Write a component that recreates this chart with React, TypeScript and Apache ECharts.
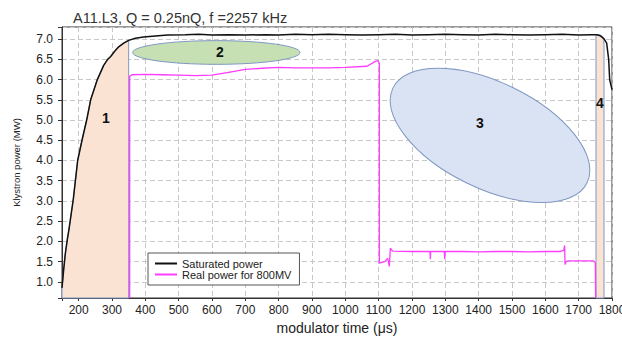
import React, { useEffect, useRef } from "react";
import * as echarts from "echarts";

const chartTitle = "A11.L3, Q = 0.25nQ, f =2257 kHz";
const xAxisName = "modulator time (\u03bcs)";
const yAxisName = "Klystron power (MW)";
const seriesNames = ["Saturated power", "Real power for 800MV"];

const xMin = 150;
const xMax = 1800;
const xStep = 100;
const yMin = 0.6;
const yMax = 7.3;
const yStep = 0.5;

const saturatedPower: [number, number][] = [
  [150, 0.85], [155, 1.3], [160, 1.7], [166, 2.05], [171, 2.3], [184, 3.05], [197, 4.0],
  [210, 4.5], [224, 5.0], [236, 5.5], [256, 6.0], [275, 6.35], [287, 6.5], [296, 6.57],
  [308, 6.7], [320, 6.81], [335, 6.9], [350, 6.97], [370, 7.02], [395, 7.05], [430, 7.08],
  [467, 7.1], [520, 7.11], [560, 7.12], [600, 7.1], [650, 7.11], [700, 7.1], [760, 7.11],
  [800, 7.1], [850, 7.12], [900, 7.11], [950, 7.12], [1000, 7.11], [1050, 7.1], [1100, 7.11],
  [1150, 7.12], [1200, 7.1], [1250, 7.11], [1300, 7.12], [1350, 7.11], [1400, 7.1],
  [1450, 7.12], [1500, 7.11], [1550, 7.1], [1600, 7.11], [1650, 7.12], [1700, 7.1],
  [1740, 7.11], [1755, 7.11], [1765, 7.08], [1775, 7.02], [1784, 6.9], [1790, 6.5],
  [1793, 6.0], [1800, 5.75],
];

const realPower: [number, number][] = [
  [353, 0.6], [353, 6.08], [360, 6.12], [400, 6.13], [450, 6.12], [500, 6.11], [550, 6.1],
  [600, 6.11], [650, 6.18], [700, 6.25], [750, 6.28], [800, 6.3], [850, 6.29], [900, 6.29],
  [950, 6.29], [1000, 6.3], [1065, 6.33], [1090, 6.45], [1098, 6.47], [1102, 6.4],
  [1102, 1.46], [1118, 1.5], [1127, 1.58], [1132, 1.38], [1135, 1.83], [1142, 1.76],
  [1200, 1.75], [1254, 1.75], [1255, 1.56], [1256, 1.75], [1297, 1.75], [1298, 1.56],
  [1299, 1.75], [1350, 1.75], [1400, 1.74], [1450, 1.75], [1500, 1.75], [1550, 1.74],
  [1600, 1.75], [1645, 1.75], [1655, 1.78], [1658, 1.9], [1659, 1.43], [1663, 1.5],
  [1668, 1.52], [1700, 1.52], [1744, 1.52], [1750, 1.48], [1751, 0.6],
];

const region1Right = 350;
const region4Outline: [number, number][] = [
  [1752, 0.6], [1752, 7.11], [1765, 7.11], [1771, 7.06], [1775, 6.97], [1776, 6.85], [1776, 0.6],
];

const annotationLabels = ["1", "2", "3", "4"];
const annotationLabelPos: [number, number][] = [
  [282, 5.05], [624, 6.69], [1404, 4.92], [1764, 5.43],
];
const ellipse2 = { center: [613, 6.67] as [number, number], rx: 251, ry: 0.293 };
const ellipse3 = { center: [1434, 4.62] as [number, number], rxPx: 108, ryPx: 53, angleDeg: -26 };

const FONT = "'Liberation Sans', Arial, sans-serif";
const OUTLINE = "#7f97c2";

function labelEl(api: any, i: number) {
  const p = api.coord(annotationLabelPos[i]);
  return {
    type: "text",
    x: p[0],
    y: p[1],
    z2: 10,
    style: {
      text: annotationLabels[i],
      fill: "#111",
      fontSize: 14,
      fontWeight: "bold",
      fontFamily: FONT,
      align: "center",
      verticalAlign: "middle",
    },
  };
}

export default function App() {
  const ref = useRef<HTMLDivElement>(null);

  useEffect(() => {
    if (!ref.current) return;
    const chart = echarts.init(ref.current, null, { renderer: "svg" });

    const region1: [number, number][] = [
      [xMin, yMin],
      ...saturatedPower.filter((d) => d[0] <= region1Right),
      [region1Right, yMin],
    ];

    const option: any = {
      animation: false,
      textStyle: { fontFamily: FONT },
      title: {
        text: chartTitle,
        left: 73,
        top: 10,
        padding: 0,
        textStyle: { fontSize: 14.5, fontWeight: "normal", color: "#333", fontFamily: FONT },
      },
      legend: {
        data: seriesNames,
        orient: "vertical",
        left: 148,
        top: 253,
        padding: [5, 8, 5, 6],
        itemGap: 0,
        itemWidth: 22,
        itemHeight: 9,
        borderColor: "#555",
        borderWidth: 1,
        backgroundColor: "#fff",
        lineStyle: { width: 2 },
        itemStyle: { opacity: 0 },
        textStyle: { fontSize: 11, color: "#222", lineHeight: 9, fontFamily: FONT },
      },
      grid: {
        left: 62,
        right: 10,
        top: 27,
        bottom: 39,
        show: true,
        borderColor: "#333",
        borderWidth: 1,
        outerBoundsMode: "none",
      },
      xAxis: {
        type: "value",
        min: xMin,
        max: xMax,
        minInterval: xStep,
        maxInterval: xStep,
        name: xAxisName,
        nameLocation: "middle",
        nameGap: 23,
        nameTextStyle: { fontSize: 14, color: "#222", fontFamily: FONT },
        axisLine: { show: true, lineStyle: { color: "#333" } },
        axisTick: { show: true, length: 3, lineStyle: { color: "#333" } },
        axisLabel: {
          fontSize: 12,
          color: "#222",
          margin: 6,
          alignMaxLabel: "center",
          formatter: (v: number) => (Math.abs(v % xStep) < 1e-6 ? String(v) : ""),
        },
        splitLine: { show: true, lineStyle: { color: "#c8c8c8", type: [5, 3] } },
      },
      yAxis: {
        type: "value",
        min: yMin,
        max: yMax,
        minInterval: yStep,
        maxInterval: yStep,
        name: yAxisName,
        nameLocation: "middle",
        nameGap: 41,
        nameTextStyle: { fontSize: 9.5, color: "#222", fontFamily: FONT },
        axisLine: { show: true, lineStyle: { color: "#333" } },
        axisTick: { show: true, length: 4, lineStyle: { color: "#333" } },
        axisLabel: {
          fontSize: 12,
          color: "#222",
          margin: 9,
          formatter: (v: number) =>
            Math.abs(v / yStep - Math.round(v / yStep)) < 1e-6 ? v.toFixed(1) : "",
        },
        splitLine: { show: true, lineStyle: { color: "#c8c8c8", type: [5, 3] } },
      },
      series: [
        {
          type: "custom",
          name: "region1",
          z: 2,
          clip: false,
          silent: true,
          data: [annotationLabelPos[0]],
          renderItem: (params: any, api: any) => ({
            type: "group",
            children: [
              {
                type: "polygon",
                shape: { points: region1.map((d) => api.coord(d)) },
                style: { fill: "#fbe3d4", stroke: OUTLINE, lineWidth: 1 },
              },
              labelEl(api, 0),
            ],
          }),
        },
        {
          type: "custom",
          name: "region4",
          z: 2,
          clip: false,
          silent: true,
          data: [annotationLabelPos[3]],
          renderItem: (params: any, api: any) => ({
            type: "group",
            children: [
              {
                type: "polygon",
                shape: { points: region4Outline.map((d) => api.coord(d)) },
                style: { fill: "#fbe3d4", stroke: OUTLINE, lineWidth: 1 },
              },
              labelEl(api, 3),
            ],
          }),
        },
        {
          type: "custom",
          name: "ellipse2",
          z: 2,
          clip: false,
          silent: true,
          data: [annotationLabelPos[1]],
          renderItem: (params: any, api: any) => {
            const c = api.coord(ellipse2.center);
            const s = api.size([ellipse2.rx, ellipse2.ry]);
            return {
              type: "group",
              children: [
                {
                  type: "ellipse",
                  shape: { cx: c[0], cy: c[1], rx: s[0], ry: s[1] },
                  style: { fill: "#c6e0b4", stroke: OUTLINE, lineWidth: 1 },
                },
                labelEl(api, 1),
              ],
            };
          },
        },
        {
          type: "custom",
          name: "ellipse3",
          z: 2,
          clip: false,
          silent: true,
          data: [annotationLabelPos[2]],
          renderItem: (params: any, api: any) => {
            const c = api.coord(ellipse3.center);
            return {
              type: "group",
              children: [
                {
                  type: "ellipse",
                  x: c[0],
                  y: c[1],
                  rotation: (ellipse3.angleDeg * Math.PI) / 180,
                  shape: { cx: 0, cy: 0, rx: ellipse3.rxPx, ry: ellipse3.ryPx },
                  style: { fill: "#dae3f3", stroke: OUTLINE, lineWidth: 1 },
                },
                labelEl(api, 2),
              ],
            };
          },
        },
        {
          type: "line",
          name: seriesNames[0],
          data: saturatedPower,
          symbol: "none",
          z: 5,
          color: "#111",
          lineStyle: { color: "#111", width: 1.5 },
        },
        {
          type: "line",
          name: seriesNames[1],
          data: realPower,
          symbol: "none",
          z: 5,
          color: "#ff3cff",
          lineStyle: { color: "#ff3cff", width: 1.3 },
        },
      ],
    };

    chart.setOption(option);
    return () => chart.dispose();
  }, []);

  return (
    <div
      ref={ref}
      style={{ position: "fixed", left: 0, top: 0, width: 622, height: 337, background: "#fff" }}
    />
  );
}
